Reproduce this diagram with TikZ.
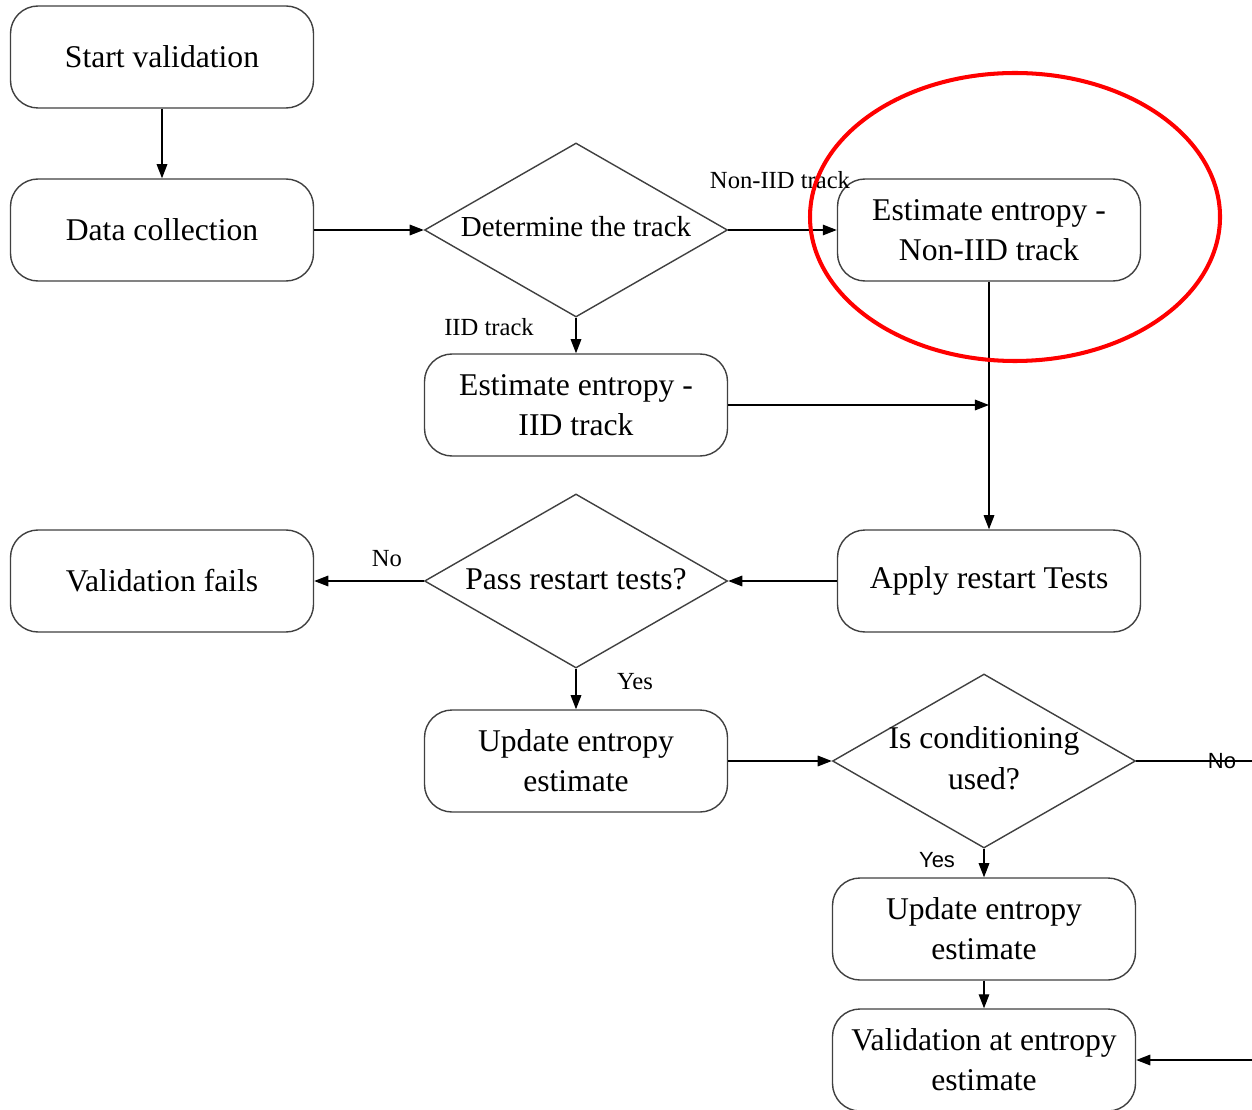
\documentclass[tikz,border=0pt]{standalone}
\usepackage{fontspec}
\setmainfont{Liberation Serif}
\setsansfont{Liberation Sans}
\usepackage{tikz}
\usetikzlibrary{shapes.geometric, arrows.meta, positioning}
% keeps the diamond from growing around its text
\newcommand{\diamondtext}[1]{\makebox[0pt]{\begin{tabular}{@{}c@{}}#1\end{tabular}}}
\tikzset{
  % Box styles
  procbox/.style={rectangle, rounded corners=0.55cm, draw=black!75, line width=0.8pt, fill=white, minimum width=6.06cm, minimum height=2.04cm, align=center, font=\fontsize{18}{22.8}\selectfont},
  decisionbox/.style={diamond, draw=black!75, line width=0.8pt, fill=white, minimum width=6.06cm, minimum height=3.48cm, inner sep=0pt, font=\fontsize{18}{22.8}\selectfont},
  % Arrow styles
  flow/.style={-{Triangle[length=8pt,width=6pt]}, line width=0.8pt, black},
  plainline/.style={line width=0.8pt, black},
  % Label styles
  tracklabel/.style={font=\fontsize{14}{16}\selectfont, inner sep=0pt},
  sanslabel/.style={font=\sffamily\fontsize{12.5}{15}\selectfont, inner sep=0pt}
}

\begin{document}
\begin{tikzpicture}
  \useasboundingbox (0,0) rectangle (25.04,-22.18);

  % Left column
  \node[procbox] (start) at (3.24,-1.14) {Start validation};
  \node[procbox] (collect) at (3.24,-4.6) {Data collection};
  \node[procbox] (fails) at (3.24,-11.62) {Validation fails};

  % Middle column
  \node[decisionbox, font=\fontsize{16.5}{19}\selectfont] (track) at (11.52,-4.6) {\diamondtext{Determine the track}};
  \node[procbox] (iid) at (11.52,-8.1) {Estimate entropy -\\IID track};
  \node[decisionbox] (restart) at (11.52,-11.62) {\diamondtext{Pass restart tests?}};
  \node[procbox] (update) at (11.52,-15.22) {Update entropy\\estimate};

  % Right column
  \node[procbox] (noniid) at (19.78,-4.6) {Estimate entropy -\\Non-IID track};
  \node[procbox] (apply) at (19.78,-11.62) {Apply restart Tests};
  \node[decisionbox] (cond) at (19.68,-15.22) {\diamondtext{Is conditioning\\used?}};
  \node[procbox] (updatecond) at (19.68,-18.58) {Update entropy\\estimate};
  \node[procbox] (final) at (19.68,-21.2) {Validation at entropy\\estimate};

  % Free ends and joins
  \coordinate (join) at (19.78,-8.1);
  \coordinate (noout) at (25.04,-15.22);
  \coordinate (backin) at (25.04,-21.2);

  % Connectors
  \draw[flow] (start) -- (collect);
  \draw[flow] (collect) -- (track);
  \draw[flow] (track) -- (noniid);
  \draw[flow] (track) -- (iid);
  \draw[flow] (iid) -- (join);
  \draw[flow] (noniid) -- (apply);
  \draw[flow] (apply) -- (restart);
  \draw[flow] (restart) -- (fails);
  \draw[flow] (restart) -- (update);
  \draw[flow] (update) -- (cond);
  \draw[plainline] (cond.east) -- (noout);
  \draw[flow] (cond) -- (updatecond);
  \draw[flow] (updatecond) -- (final);
  \draw[flow] (backin) -- (final.east);

  % Connector labels
  \node[tracklabel] (lnoniid) at (15.6,-3.6) {Non-IID track};
  \node[tracklabel] (liid) at (9.78,-6.54) {IID track};
  \node[tracklabel] (lno) at (7.74,-11.18) {No};
  \node[tracklabel] (lyes) at (12.7,-13.64) {Yes};
  \node[sanslabel] (lcondyes) at (18.74,-17.2) {Yes};
  \node[sanslabel] (lcondno) at (24.44,-15.22) {No};

  % Highlight
  \draw[red, line width=2.3pt] (20.3,-4.34) ellipse (4.1cm and 2.88cm);
\end{tikzpicture}
\end{document}
